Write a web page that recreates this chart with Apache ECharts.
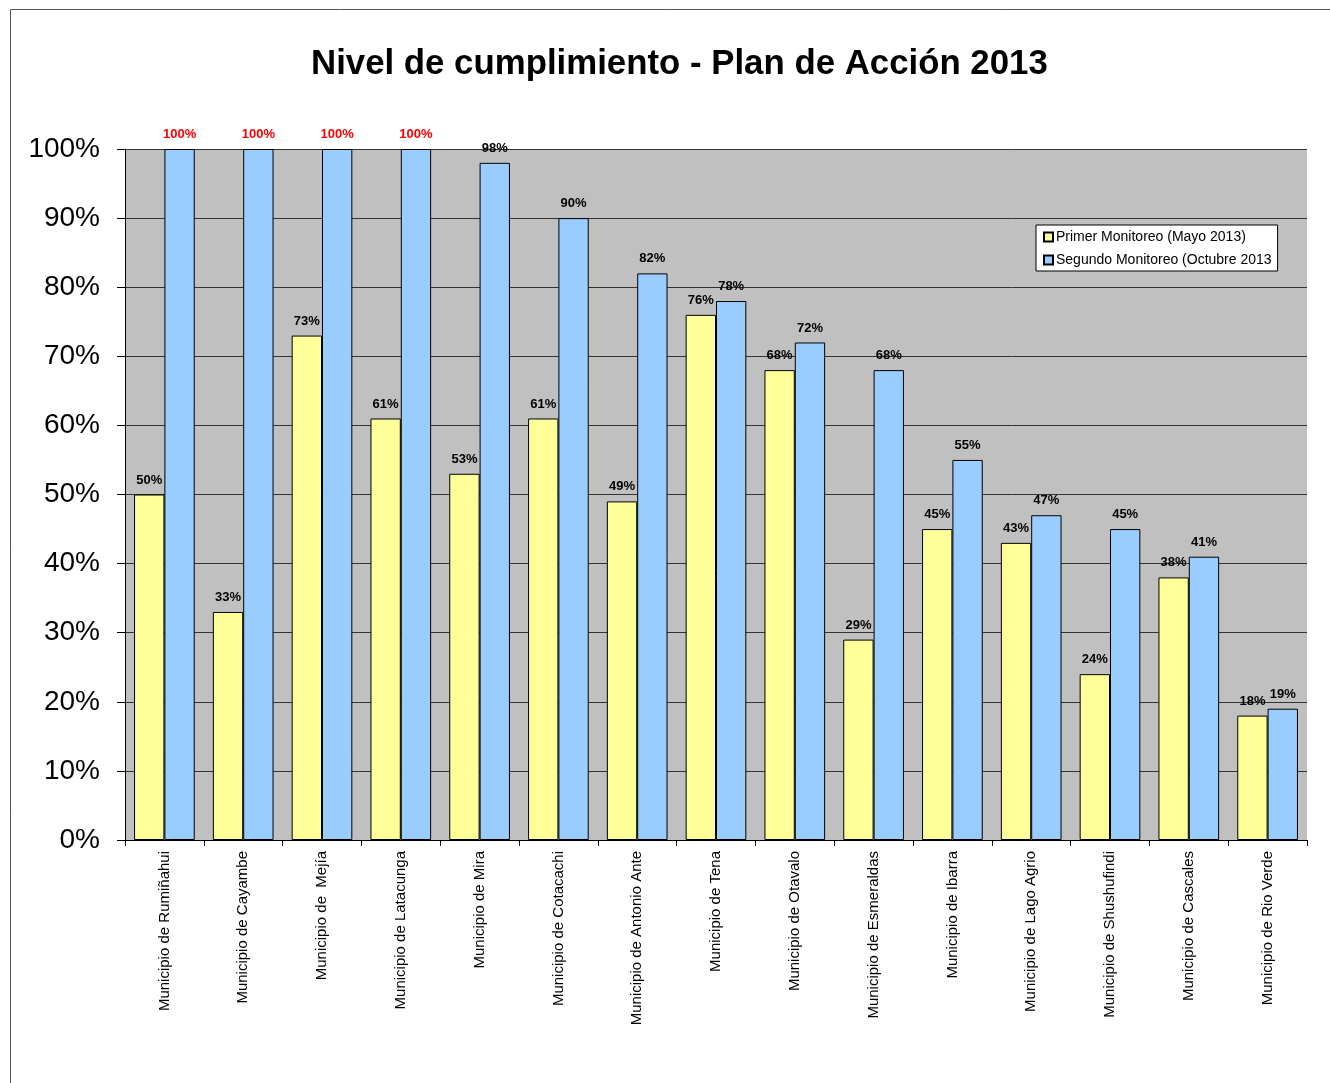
<!DOCTYPE html>
<html>
<head>
<meta charset="utf-8">
<script src="https://cdn.jsdelivr.net/npm/echarts@6/dist/echarts.min.js"></script>
<style>
html,body{margin:0;padding:0;background:#fff;}
#chart{width:1330px;height:1083px;}
</style>
</head>
<body>
<div id="chart"></div>
<script>
var categories = [
  'Municipio de Rumiñahui', 'Municipio de Cayambe', 'Municipio de  Mejía', 'Municipio de Latacunga',
  'Municipio de Mira', 'Municipio de Cotacachi', 'Municipio de Antonio Ante', 'Municipio de Tena',
  'Municipio de Otavalo', 'Municipio de Esmeraldas', 'Municipio de Ibarra', 'Municipio de Lago Agrio',
  'Municipio de Shushufindi', 'Municipio de Cascales', 'Municipio de Rio Verde'
];
var primerMonitoreo = [50, 33, 73, 61, 53, 61, 49, 76, 68, 29, 45, 43, 24, 38, 18];
var segundoMonitoreo = [100, 100, 100, 100, 98, 90, 82, 78, 72, 68, 55, 47, 45, 41, 19];
var seriesNames = ['Primer Monitoreo (Mayo 2013)', 'Segundo Monitoreo (Octubre 2013'];
var titleText = 'Nivel de cumplimiento - Plan de Acción 2013';

function toData(arr) {
  return arr.map(function (v) {
    return { value: v, label: { color: v === 100 ? '#FF0000' : '#000000' } };
  });
}

var FONT = '"Liberation Sans", Arial, sans-serif';
var chart = echarts.init(document.getElementById('chart'), null, { renderer: 'canvas' });
chart.setOption({
  animation: false,
  backgroundColor: '#ffffff',
  graphic: [{
    type: 'rect',
    shape: { x: 10.5, y: 9.5, width: 1400, height: 1200 },
    style: { fill: 'none', stroke: '#555555', lineWidth: 1 },
    silent: true
  }],
  title: {
    text: titleText,
    left: 306,
    top: 42,
    textStyle: { fontFamily: FONT, fontSize: 34.8, fontWeight: 'bold', color: '#000' }
  },
  legend: {
    orient: 'vertical',
    left: 1036,
    top: 225,
    backgroundColor: '#ffffff',
    borderColor: '#000000',
    borderWidth: 1,
    borderRadius: 0,
    padding: [4, 6, 3, 7],
    itemGap: 7,
    itemWidth: 9,
    itemHeight: 9,
    icon: 'rect',
    textStyle: { fontFamily: FONT, fontSize: 14, color: '#000', lineHeight: 16, padding: [0, 0, 0, -2] },
    data: seriesNames
  },
  grid: {
    left: 125, top: 149, right: 23, bottom: 243,
    show: true, backgroundColor: '#C0C0C0', borderWidth: 0
  },
  xAxis: {
    type: 'category',
    data: categories,
    axisLine: { lineStyle: { color: '#000', width: 1 } },
    axisTick: { show: true, length: 6, alignWithLabel: false, interval: 0, lineStyle: { color: '#000' } },
    axisLabel: { interval: 0, rotate: 90, margin: 11, fontFamily: FONT, fontSize: 15, color: '#000' },
    splitLine: { show: false }
  },
  yAxis: {
    type: 'value',
    min: 0, max: 100, interval: 10,
    axisLine: { show: true, lineStyle: { color: '#000', width: 1 } },
    axisTick: { show: true, length: 8, inside: false, lineStyle: { color: '#000' } },
    axisLabel: { formatter: '{value}%', fontFamily: FONT, fontSize: 28, color: '#000', margin: 25, padding: [8, 0, 0, 0] },
    splitLine: { show: true, lineStyle: { color: '#333333', width: 1 } }
  },
  series: [{
    name: seriesNames[0],
    type: 'bar',
    barGap: '0%',
    barCategoryGap: '23%',
    data: toData(primerMonitoreo),
    itemStyle: { color: '#FFFF99', borderColor: '#000', borderWidth: 1 },
    label: { show: true, position: 'top', distance: 8, formatter: '{c}%', fontFamily: FONT, fontSize: 13, fontWeight: 'bold' }
  }, {
    name: seriesNames[1],
    type: 'bar',
    barGap: '0%',
    barCategoryGap: '23%',
    data: toData(segundoMonitoreo),
    itemStyle: { color: '#99CCFF', borderColor: '#000', borderWidth: 1 },
    label: { show: true, position: 'top', distance: 8, formatter: '{c}%', fontFamily: FONT, fontSize: 13, fontWeight: 'bold' }
  }]
});
</script>
</body>
</html>
